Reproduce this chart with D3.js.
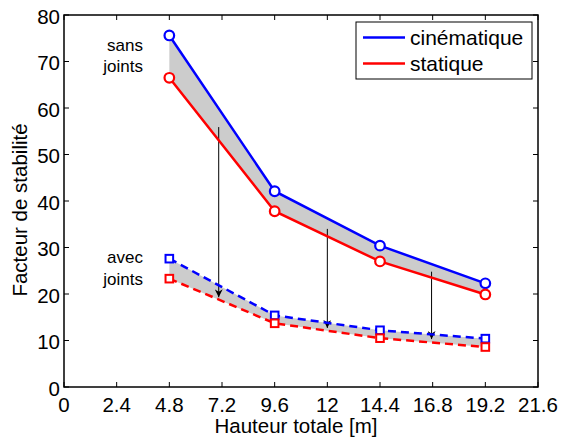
<!DOCTYPE html>
<html><head><meta charset="utf-8">
<script src="https://cdn.jsdelivr.net/npm/d3@7"></script>
<style>body{margin:0;background:#fff}svg{display:block;font-family:"Liberation Sans",Arial,sans-serif}</style>
</head><body><svg id="c" width="562" height="438"></svg>
<script>
const heights = [4.8, 9.6, 14.4, 19.2];
const cinSans = [75.6, 42.1, 30.4, 22.3];
const statSans = [66.5, 37.8, 27.0, 19.9];
const cinAvec = [27.6, 15.4, 12.2, 10.4];
const statAvec = [23.3, 13.7, 10.5, 8.6];
const xTicks = [0, 2.4, 4.8, 7.2, 9.6, 12, 14.4, 16.8, 19.2, 21.6];
const yTicks = [0, 10, 20, 30, 40, 50, 60, 70, 80];
const arrowsX = [7.05, 12, 16.75];
const arrowsTop = [55.9, 34.0, 24.8];
const arrowsEnd = [19.3, 12.7, 10.3];
const legendLabels = ["cinématique", "statique"];
const colors = ["#0000ff", "#ff0000"];

const svg = d3.select("#c");
const L = 64, R = 538, T = 15, B = 387;
const x = d3.scaleLinear().domain([0, 21.6]).range([L, R]);
const y = d3.scaleLinear().domain([0, 80]).range([B, T]);

// fills
function band(top, bot) {
  const a = d3.area().x((d, i) => x(heights[i])).y0((d, i) => y(bot[i])).y1(d => y(d));
  svg.append("path").attr("d", a(top)).attr("fill", "#cccccc");
}
band(cinSans, statSans);
band(cinAvec, statAvec);

// arrows
svg.append("defs").append("marker").attr("id", "ah").attr("viewBox", "0 0 10 10")
  .attr("refX", 10).attr("refY", 5).attr("markerWidth", 8).attr("markerHeight", 8)
  .attr("markerUnits", "userSpaceOnUse").attr("orient", "auto")
  .append("path").attr("d", "M0,0 L10,5 L0,10 L3,5 Z").attr("fill", "#000");
arrowsX.forEach((ax, i) => {
  svg.append("line").attr("x1", x(ax)).attr("x2", x(ax))
    .attr("y1", y(arrowsTop[i])).attr("y2", y(arrowsEnd[i]))
    .attr("stroke", "#000").attr("stroke-width", 1).attr("marker-end", "url(#ah)");
});

// lines
const line = d3.line().x((d, i) => x(heights[i])).y(d => y(d));
function series(vals, col, dashed, marker) {
  svg.append("path").attr("d", line(vals)).attr("fill", "none").attr("stroke", col)
    .attr("stroke-width", 2.5).attr("stroke-dasharray", dashed ? "8,5" : null);
  vals.forEach((v, i) => {
    if (marker === "o") {
      svg.append("circle").attr("cx", x(heights[i])).attr("cy", y(v)).attr("r", 4.8)
        .attr("fill", "#fff").attr("stroke", col).attr("stroke-width", 2.2);
    } else {
      svg.append("rect").attr("x", x(heights[i]) - 3.8).attr("y", y(v) - 3.8)
        .attr("width", 7.6).attr("height", 7.6)
        .attr("fill", "#fff").attr("stroke", col).attr("stroke-width", 2);
    }
  });
}
series(cinAvec, colors[0], true, "s");
series(statAvec, colors[1], true, "s");
series(cinSans, colors[0], false, "o");
series(statSans, colors[1], false, "o");

// axes box
svg.append("rect").attr("x", L).attr("y", T).attr("width", R - L).attr("height", B - T)
  .attr("fill", "none").attr("stroke", "#000").attr("stroke-width", 1.5);
const tl = 5;
xTicks.forEach(t => {
  svg.append("line").attr("x1", x(t)).attr("x2", x(t)).attr("y1", B).attr("y2", B - tl).attr("stroke", "#000");
  svg.append("line").attr("x1", x(t)).attr("x2", x(t)).attr("y1", T).attr("y2", T + tl).attr("stroke", "#000");
  svg.append("text").attr("x", x(t)).attr("y", 412).attr("text-anchor", "middle")
    .attr("font-size", 20.5).text(t);
});
yTicks.forEach(t => {
  svg.append("line").attr("x1", L).attr("x2", L + tl).attr("y1", y(t)).attr("y2", y(t)).attr("stroke", "#000");
  svg.append("line").attr("x1", R).attr("x2", R - tl).attr("y1", y(t)).attr("y2", y(t)).attr("stroke", "#000");
  svg.append("text").attr("x", 60).attr("y", y(t) + 8.5).attr("text-anchor", "end")
    .attr("font-size", 20.5).text(t);
});
svg.append("text").attr("x", 296).attr("y", 433).attr("text-anchor", "middle")
  .attr("font-size", 20.5).text("Hauteur totale [m]");
svg.append("text").attr("transform", `translate(27,210) rotate(-90)`)
  .attr("text-anchor", "middle").attr("font-size", 20.5).text("Facteur de stabilité");

// annotations
[["sans", 51], ["joints", 72], ["avec", 263], ["joints", 285]].forEach(([t, yy]) => {
  svg.append("text").attr("x", 143).attr("y", yy).attr("text-anchor", "end")
    .attr("font-size", 17).text(t);
});

// legend
const lg = svg.append("g");
lg.append("rect").attr("x", 356).attr("y", 22).attr("width", 176).attr("height", 57)
  .attr("fill", "#fff").attr("stroke", "#000").attr("stroke-width", 1);
legendLabels.forEach((lab, i) => {
  const yy = 37.5 + i * 26;
  lg.append("line").attr("x1", 363).attr("x2", 405).attr("y1", yy).attr("y2", yy)
    .attr("stroke", colors[i]).attr("stroke-width", 2.5);
  lg.append("text").attr("x", 410).attr("y", yy + 7.5).attr("font-size", 21).text(lab);
});
</script></body></html>
